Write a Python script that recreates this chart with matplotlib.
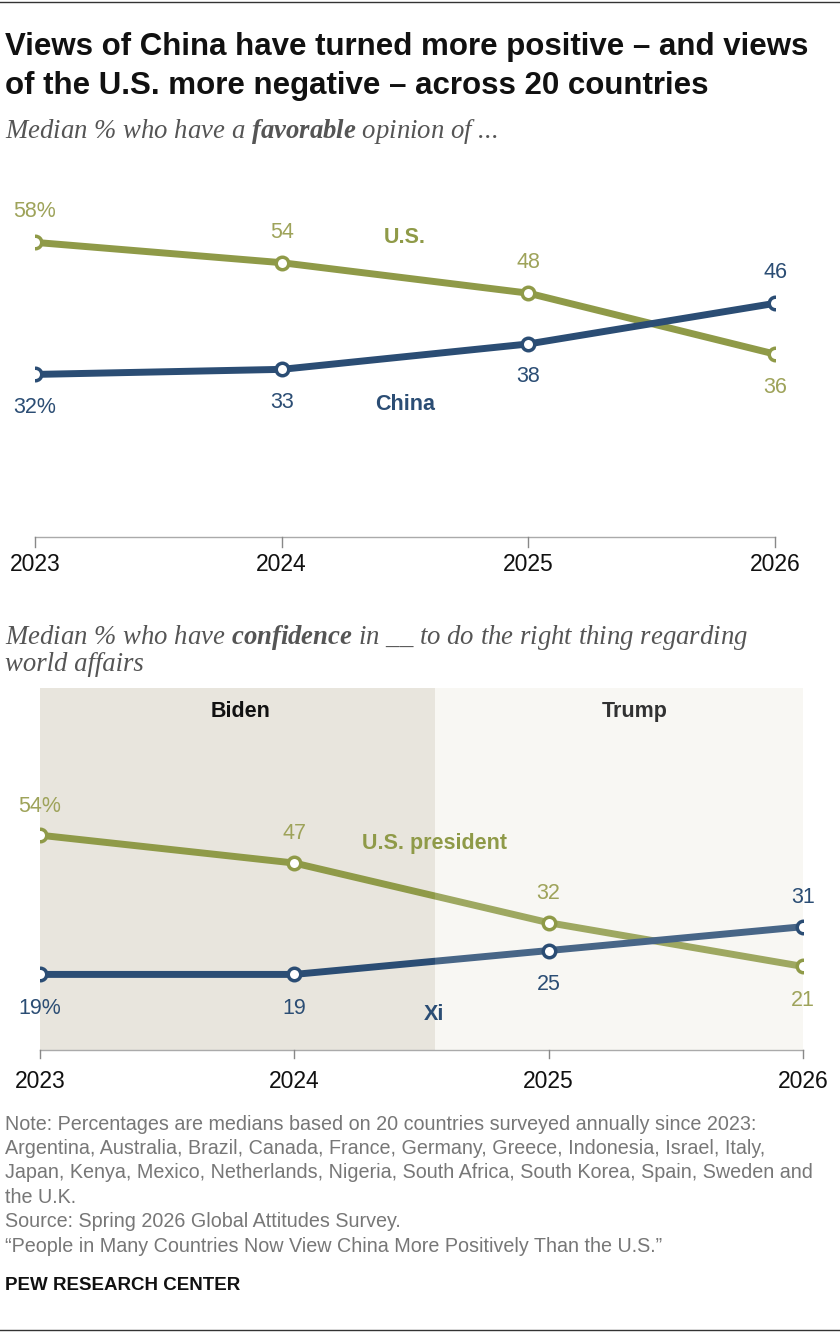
import matplotlib
matplotlib.use("Agg")
import matplotlib.pyplot as plt
from matplotlib.patches import Rectangle

years = [2023, 2024, 2025, 2026]
us_fav = [58, 54, 48, 36]
china_fav = [32, 33, 38, 46]
us_pres = [54, 47, 32, 21]
xi = [19, 19, 25, 31]

OLIVE = "#8f9a48"
OLIVE_T = "#9ea35a"
BLUE = "#2b4d74"
plt.rcParams['font.family'] = ['Liberation Sans', 'DejaVu Sans']
plt.rcParams['mathtext.fontset'] = 'custom'
plt.rcParams['mathtext.bf'] = 'Liberation Serif:bold:italic'
plt.rcParams['mathtext.rm'] = 'Liberation Serif:italic'
plt.rcParams['mathtext.it'] = 'Liberation Serif:italic'

W, H = 840, 1340
fig = plt.figure(figsize=(8.4, 13.4), dpi=100)

def T(x, y, s, **kw):
    fig.text(x / W, 1 - y / H, s, **kw)

T(5, 47, "Views of China have turned more positive – and views",
  fontsize=22.5, fontweight='bold', va='center', ha='left', color='#111111')
T(5, 86, "of the U.S. more negative – across 20 countries",
  fontsize=22.5, fontweight='bold', va='center', ha='left', color='#111111')
fig.add_artist(plt.Line2D([0, 1], [1 - 2 / H, 1 - 2 / H], color='#333333', lw=1))

SUB = dict(fontsize=19.3, style='italic', family=['Liberation Serif'], color='#555555', va='center')
T(5, 131, "Median % who have a $\\mathbf{favorable}$ opinion of ...", **SUB)

def mark(ax, x, y, c):
    ax.plot(x, y, color=c, lw=5, solid_capstyle='round', zorder=3)
    ax.plot(x, y, 'o', ms=9, mfc='white', mec=c, mew=2.5, zorder=4, ls='none')

LF = 15.5
ax1 = fig.add_axes([35 / W, 1 - 537 / H, 740 / W, 381 / H])
ax1.set_xlim(2023, 2026); ax1.set_ylim(0, 75)
ax1.axis('off')
mark(ax1, years, us_fav, OLIVE)
mark(ax1, years, china_fav, BLUE)
ax1.plot([2023, 2026], [0, 0], color='#aaaaaa', lw=1, clip_on=False)
for yr in years:
    ax1.plot([yr, yr], [0, -2], color='#888888', lw=1, clip_on=False)
us_lab = ["58%", "54", "48", "36"]
ch_lab = ["32%", "33", "38", "46"]
for i, yr in enumerate(years):
    dy_us = -6.5 if i == 3 else 6.0
    dy_ch = 6.0 if i == 3 else -6.5
    ax1.text(yr, us_fav[i] + dy_us, us_lab[i], ha='center', va='center', fontsize=LF, color=OLIVE_T)
    ax1.text(yr, china_fav[i] + dy_ch, ch_lab[i], ha='center', va='center', fontsize=LF, color=BLUE)
ax1.text(2024.5, 59, "U.S.", ha='center', va='center', fontsize=LF, fontweight='bold', color=OLIVE)
ax1.text(2024.5, 26, "China", ha='center', va='center', fontsize=LF, fontweight='bold', color=BLUE)
for yr in years:
    ax1.text(yr, -5.5, str(yr), ha='center', va='center', fontsize=16.5, color='#111111', clip_on=False)

T(5, 638, "Median % who have $\\mathbf{confidence}$ in __ to do the right thing regarding", **SUB)
T(5, 665, "world affairs", **SUB)

ax2 = fig.add_axes([40 / W, 1 - 1050 / H, 763 / W, 362 / H])
ax2.set_xlim(2023, 2026); ax2.set_ylim(0, 91)
ax2.axis('off')
split = 2024.555
ax2.add_patch(Rectangle((2023, 0), split - 2023, 91, color='#e8e5dd', zorder=0, lw=0))
ax2.add_patch(Rectangle((split, 0), 2026 - split, 91, color='#f7f6f2', zorder=0, lw=0))
mark(ax2, years, us_pres, OLIVE)
mark(ax2, years, xi, BLUE)
ax2.add_patch(Rectangle((split, 0), 2026 - split, 91, color='white', alpha=0.14, zorder=3.5, lw=0))
ax2.plot([2023, 2026], [0, 0], color='#aaaaaa', lw=1, clip_on=False)
for yr in years:
    ax2.plot([yr, yr], [0, -2], color='#888888', lw=1, clip_on=False)
pres_lab = ["54%", "47", "32", "21"]
xi_lab = ["19%", "19", "25", "31"]
for i, yr in enumerate(years):
    dy_p = -8.5 if i == 3 else 7.3
    dy_x = 7.3 if i == 3 else -8.5
    ax2.text(yr, us_pres[i] + dy_p, pres_lab[i], ha='center', va='center', fontsize=LF, color=OLIVE_T, zorder=5)
    ax2.text(yr, xi[i] + dy_x, xi_lab[i], ha='center', va='center', fontsize=LF, color=BLUE, zorder=5)
ax2.text(2024.55, 52, "U.S. president", ha='center', va='center', fontsize=LF, fontweight='bold', color=OLIVE, zorder=5)
ax2.text(2024.55, 9, "Xi", ha='center', va='center', fontsize=LF, fontweight='bold', color=BLUE, zorder=5)
ax2.text(2023.79, 85, "Biden", ha='center', va='center', fontsize=LF, fontweight='bold', color='#111111')
ax2.text(2025.34, 85, "Trump", ha='center', va='center', fontsize=LF, fontweight='bold', color='#111111')
for yr in years:
    ax2.text(yr, -8, str(yr), ha='center', va='center', fontsize=16.5, color='#111111', clip_on=False)

note_lines = ["Note: Percentages are medians based on 20 countries surveyed annually since 2023:",
              "Argentina, Australia, Brazil, Canada, France, Germany, Greece, Indonesia, Israel, Italy,",
              "Japan, Kenya, Mexico, Netherlands, Nigeria, South Africa, South Korea, Spain, Sweden and",
              "the U.K.",
              "Source: Spring 2026 Global Attitudes Survey.",
              "\u201cPeople in Many Countries Now View China More Positively Than the U.S.\u201d"]
for k, ln in enumerate(note_lines):
    T(5, 1124 + 24.4 * k, ln, fontsize=14.2, color='#777777', va='center')
T(5, 1285, "PEW RESEARCH CENTER", fontsize=13.5, fontweight='bold', color='#111111', va='center')
fig.add_artist(plt.Line2D([0, 1], [1 - 1330 / H, 1 - 1330 / H], color='#333333', lw=1))

fig.savefig("out.png", dpi=100, facecolor='white')
